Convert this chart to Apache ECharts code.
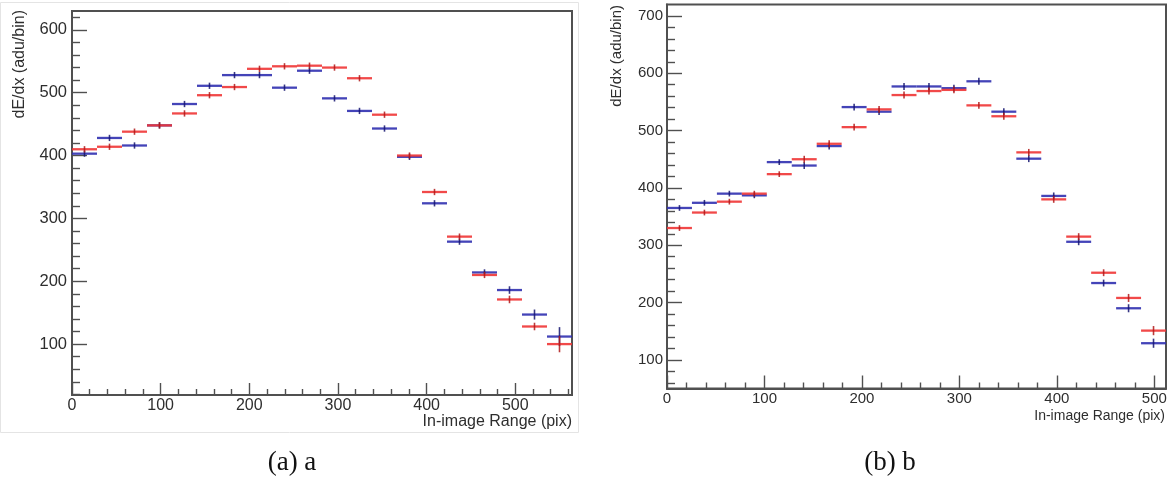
<!DOCTYPE html>
<html>
<head>
<meta charset="utf-8">
<script src="https://cdn.jsdelivr.net/npm/echarts@6/dist/echarts.min.js"></script>
<style>
  html, body { margin: 0; padding: 0; background: #ffffff; }
  #chart { width: 1171px; height: 479px; }
</style>
</head>
<body>
<div id="chart"></div>
<script>
// ---- histogram data: dE/dx per bin along the in-image range ----
const rangeA = 564;            // x extent of panel (a), 20 bins
const rangeB = 512;            // x extent of panel (b), 20 bins
const binCount = 20;

const redA  = [410, 414, 438, 448, 467, 496, 509, 538, 542, 543, 540, 523, 465, 400, 342, 271, 210, 171, 128, 100];
const blueA = [403, 428, 416, 448, 482, 511, 528, 528, 508, 535, 491, 471, 443, 398, 324, 263, 214, 186, 147, 112];
const redErrA  = [5, 5, 5, 5, 5, 5, 5, 5, 5, 5, 5, 5, 5, 5, 5, 5, 5, 6, 6, 13];
const blueErrA = [5, 5, 5, 5, 5, 5, 5, 5, 5, 5, 5, 5, 5, 5, 5, 5, 5, 6, 8, 15];

const redB  = [330, 357, 376, 390, 424, 450, 477, 506, 537, 562, 569, 571, 544, 525, 462, 380, 315, 252, 208, 151];
const blueB = [365, 374, 390, 387, 445, 439, 473, 541, 533, 577, 577, 574, 586, 533, 451, 386, 306, 234, 190, 129];
const redErrB  = [5, 5, 5, 5, 5, 6, 6, 6, 6, 6, 6, 6, 6, 6, 6, 6, 6, 6, 7, 8];
const blueErrB = [5, 5, 5, 5, 5, 6, 6, 6, 6, 6, 6, 6, 6, 6, 6, 6, 6, 6, 7, 8];

// axis ticks
const xMajorA = [0, 100, 200, 300, 400, 500];
const xMinorA = [20, 40, 60, 80, 120, 140, 160, 180, 220, 240, 260, 280, 320, 340, 360, 380, 420, 440, 460, 480, 520, 540, 560];
const yMajorA = [100, 200, 300, 400, 500, 600];
const yMinorA = [20, 40, 60, 80, 120, 140, 160, 180, 220, 240, 260, 280, 320, 340, 360, 380, 420, 440, 460, 480, 520, 540, 560, 580, 620];

const xMajorB = [0, 100, 200, 300, 400, 500];
const xMinorB = [20, 40, 60, 80, 120, 140, 160, 180, 220, 240, 260, 280, 320, 340, 360, 380, 420, 440, 460, 480];
const yMajorB = [100, 200, 300, 400, 500, 600, 700];
const yMinorB = [60, 80, 120, 140, 160, 180, 220, 240, 260, 280, 320, 340, 360, 380, 420, 440, 460, 480, 520, 540, 560, 580, 620, 640, 660, 680];

const yTitle = 'dE/dx (adu/bin)';
const xTitle = 'In-image Range (pix)';
const captionA = '(a) a';
const captionB = '(b) b';

// ---- styling ----
const FONT = 'Liberation Sans, Arial, sans-serif';
const SERIF = 'Liberation Serif, DejaVu Serif, serif';
const FRAME = '#505050';
const TEXT = '#2e2e2e';
const RED = '#f03535';
const RED_DARK = '#b01818';
const BLUE = '#3030b0';
const BLUE_DARK = '#141470';

// rows of [binLow, binHigh, value, error]
function histRows(values, errors, range) {
  const w = range / binCount;
  return values.map((v, i) => [i * w, (i + 1) * w, v, errors[i]]);
}

function binRenderer(color, dark) {
  return function (params, api) {
    const lo = api.value(0), hi = api.value(1), v = api.value(2), e = api.value(3);
    const a = api.coord([lo, v]);
    const b = api.coord([hi, v]);
    const mid = (lo + hi) / 2;
    const t = api.coord([mid, v + e]);
    const d = api.coord([mid, v - e]);
    return {
      type: 'group',
      children: [
        { type: 'line', shape: { x1: a[0], y1: a[1], x2: b[0], y2: b[1] },
          style: { stroke: color, lineWidth: 2.3, opacity: 0.9 } },
        { type: 'line', shape: { x1: t[0], y1: t[1], x2: d[0], y2: d[1] },
          style: { stroke: dark, lineWidth: 1.6, opacity: 0.85 } }
      ]
    };
  };
}

function histSeries(rows, gi, color, dark) {
  return {
    type: 'custom',
    xAxisIndex: gi * 2,
    yAxisIndex: gi * 2,
    renderItem: binRenderer(color, dark),
    encode: { x: [0, 1], y: [2] },
    data: rows,
    silent: true,
    animation: false
  };
}

function xAxes(gi, max, majors, minors, fontSize, margin, majLen) {
  return [
    {
      type: 'value', gridIndex: gi, min: 0, max: max, position: 'bottom',
      axisLine: { show: true, lineStyle: { color: FRAME, width: 2 } },
      axisTick: { show: true, inside: true, length: majLen, customValues: majors,
                  lineStyle: { color: FRAME, width: 1.4 } },
      axisLabel: { show: true, customValues: majors, color: TEXT, fontFamily: FONT,
                   fontSize: fontSize, margin: margin },
      splitLine: { show: false }
    },
    {
      type: 'value', gridIndex: gi, min: 0, max: max, position: 'bottom',
      axisLine: { show: false },
      axisTick: { show: true, inside: true, length: 6, customValues: minors,
                  lineStyle: { color: FRAME, width: 1.4 } },
      axisLabel: { show: false },
      splitLine: { show: false }
    }
  ];
}

function yAxes(gi, min, max, majors, minors, fontSize, margin, majLen, minLen) {
  return [
    {
      type: 'value', gridIndex: gi, min: min, max: max, position: 'left',
      axisLine: { show: true, lineStyle: { color: FRAME, width: 2 } },
      axisTick: { show: true, inside: true, length: majLen, customValues: majors,
                  lineStyle: { color: FRAME, width: 1.4 } },
      axisLabel: { show: true, customValues: majors, color: TEXT, fontFamily: FONT,
                   fontSize: fontSize, margin: margin },
      splitLine: { show: false }
    },
    {
      type: 'value', gridIndex: gi, min: min, max: max, position: 'left',
      axisLine: { show: false },
      axisTick: { show: true, inside: true, length: minLen, customValues: minors,
                  lineStyle: { color: FRAME, width: 1.4 } },
      axisLabel: { show: false },
      splitLine: { show: false }
    }
  ];
}

const chart = echarts.init(document.getElementById('chart'), null, { renderer: 'canvas' });

const option = {
  animation: false,
  backgroundColor: '#ffffff',
  grid: [
    { left: 72, top: 11, width: 500, height: 384, show: true,
      borderColor: FRAME, borderWidth: 2, backgroundColor: 'transparent', containLabel: false },
    { left: 667, top: 4.5, width: 499, height: 384, show: true,
      borderColor: FRAME, borderWidth: 2, backgroundColor: 'transparent', containLabel: false }
  ],
  xAxis: [
    ...xAxes(0, rangeA, xMajorA, xMinorA, 16, 3, 12),
    ...xAxes(1, rangeB, xMajorB, xMinorB, 15, 3, 13)
  ],
  yAxis: [
    ...yAxes(0, 19, 630, yMajorA, yMinorA, 16.5, 5, 15, 8),
    ...yAxes(1, 50, 720, yMajorB, yMinorB, 15, 4, 15, 8)
  ],
  series: [
    histSeries(histRows(blueA, blueErrA, rangeA), 0, BLUE, BLUE_DARK),
    histSeries(histRows(redA, redErrA, rangeA), 0, RED, RED_DARK),
    histSeries(histRows(blueB, blueErrB, rangeB), 1, BLUE, BLUE_DARK),
    histSeries(histRows(redB, redErrB, rangeB), 1, RED, RED_DARK)
  ],
  graphic: [
    // panel (a) outline
    { type: 'rect', shape: { x: 0.5, y: 2.5, width: 578, height: 430 },
      style: { fill: 'none', stroke: '#e4e4e4', lineWidth: 1 }, silent: true, z: -1 },
    // axis titles
    { type: 'text', x: 20, y: 10, rotation: Math.PI / 2,
      style: { text: yTitle, fontFamily: FONT, fontSize: 16, fill: TEXT,
               align: 'right', verticalAlign: 'middle' } },
    { type: 'text', x: 572, y: 422,
      style: { text: xTitle, fontFamily: FONT, fontSize: 16, fill: TEXT,
               align: 'right', verticalAlign: 'middle' } },
    { type: 'text', x: 617, y: 5, rotation: Math.PI / 2,
      style: { text: yTitle, fontFamily: FONT, fontSize: 15, fill: TEXT,
               align: 'right', verticalAlign: 'middle' } },
    { type: 'text', x: 1165, y: 416,
      style: { text: xTitle, fontFamily: FONT, fontSize: 14, fill: TEXT,
               align: 'right', verticalAlign: 'middle' } },
    // sub-figure captions
    { type: 'text', x: 292, y: 463,
      style: { text: captionA, fontFamily: SERIF, fontSize: 27,
               fill: '#111111', align: 'center', verticalAlign: 'middle' } },
    { type: 'text', x: 890, y: 463,
      style: { text: captionB, fontFamily: SERIF, fontSize: 27,
               fill: '#111111', align: 'center', verticalAlign: 'middle' } }
  ]
};

chart.setOption(option);
</script>
</body>
</html>
